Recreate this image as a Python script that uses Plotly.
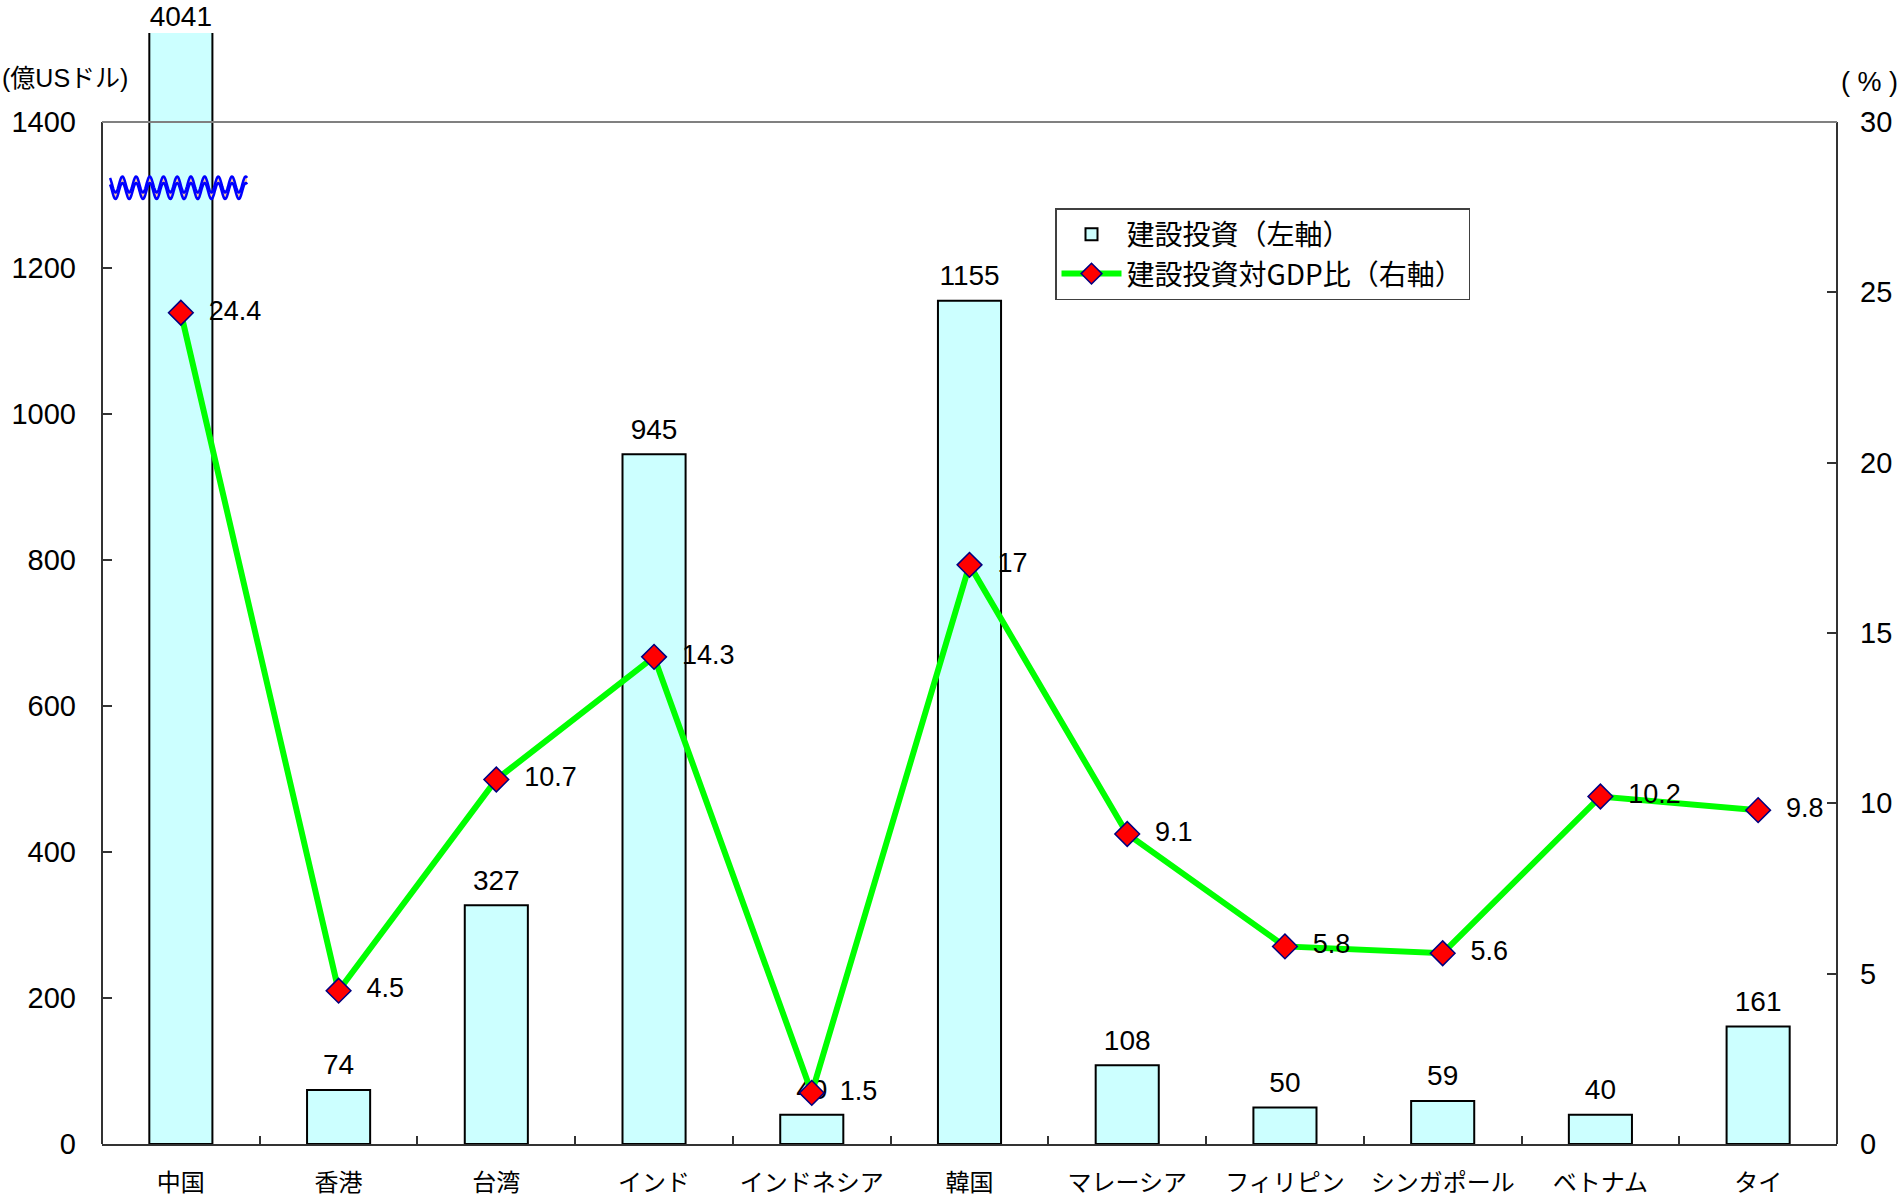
import numpy as np
import plotly.graph_objects as go

# ---------------- data ----------------
categories = ["中国", "香港", "台湾", "インド", "インドネシア", "韓国",
              "マレーシア", "フィリピン", "シンガポール", "ベトナム", "タイ"]
construction_investment = [4041, 74, 327, 945, 40, 1155, 108, 50, 59, 40, 161]
investment_gdp_ratio = [24.4, 4.5, 10.7, 14.3, 1.5, 17, 9.1, 5.8, 5.6, 10.2, 9.8]
left_ticks = [0, 200, 400, 600, 800, 1000, 1200, 1400]
right_ticks = [0, 5, 10, 15, 20, 25, 30]
bar_name = "建設投資（左軸）"
line_name = "建設投資対GDP比（右軸）"
left_title = "(億USドル)"
right_title = "( % )"

# ---------------- layout geometry (pixels) ----------------
W, H = 1901, 1198
PL, PR, PT, PB = 102, 1837, 33, 1144   # plot area
FRAME_TOP = 122                         # pixel of top tick (1400 / 30)
factor = (PB - PT) / (PB - FRAME_TOP)
Y_MAX = left_ticks[-1] * factor
Y2_MAX = right_ticks[-1] * factor

def px_to_paper(x, y):
    return (x - PL) / (PR - PL), (PB - y) / (PB - PT)

JP = "Noto Sans CJK JP, Liberation Sans"
NUM = "Liberation Sans, Noto Sans CJK JP"
GAP = "\u00a0\u00a0"

fig = go.Figure()

fig.add_trace(go.Bar(
    x=categories, y=construction_investment, name=bar_name,
    width=0.4,
    marker=dict(color="#CCFFFF", line=dict(color="#000000", width=2)),
    yaxis="y", hoverinfo="x+y",
))

# bar value labels (an invisible marker pushes the text up a little;
# the clipped China bar gets no push so its label stays inside the page)
label_y = [min(v, Y_MAX) for v in construction_investment]
label_push = [0 if v > Y_MAX else 12 for v in construction_investment]
fig.add_trace(go.Scatter(
    x=categories, y=label_y, mode="markers+text",
    marker=dict(size=label_push, color="rgba(0,0,0,0)", opacity=0,
                line=dict(width=0, color="rgba(0,0,0,0)")),
    text=[str(v) for v in construction_investment],
    textposition="top center",
    textfont=dict(family=NUM, size=28, color="#000000"),
    cliponaxis=False, showlegend=False, hoverinfo="skip", yaxis="y",
))

fig.add_trace(go.Scatter(
    x=categories, y=investment_gdp_ratio, name=line_name,
    mode="lines+markers+text",
    line=dict(color="#00FF00", width=6),
    marker=dict(symbol="diamond", size=19, color="#FF0000",
                line=dict(color="#000080", width=1.5)),
    text=[GAP + f"{v:g}" for v in investment_gdp_ratio],
    textposition="middle right",
    textfont=dict(family=NUM, size=27, color="#000000"),
    cliponaxis=False, yaxis="y2",
))

# ---------------- decorations ----------------
shapes = []
axis_col = "#333333"
shapes.append(dict(type="line", xref="paper", yref="y", x0=0, x1=0, y0=0, y1=left_ticks[-1],
                   line=dict(color=axis_col, width=2)))
shapes.append(dict(type="line", xref="paper", yref="y", x0=1, x1=1, y0=0, y1=left_ticks[-1],
                   line=dict(color=axis_col, width=2)))
shapes.append(dict(type="line", xref="paper", yref="y", x0=0, x1=1, y0=left_ticks[-1], y1=left_ticks[-1],
                   line=dict(color="#808080", width=2)))

# axis-break wave
xs = np.linspace(110, 247, 300)
ytop = 184.5 - 8.0 * np.sin(2 * np.pi * (xs - 110) / 13.7 + np.pi / 2 + 0.6)
ybot = ytop + 6.5
top_pts = [px_to_paper(a, b) for a, b in zip(xs, ytop)]
bot_pts = [px_to_paper(a, b) for a, b in zip(xs, ybot)]
fill_path = "M" + " L".join(f"{a:.5f},{b:.5f}" for a, b in top_pts + bot_pts[::-1]) + " Z"
shapes.append(dict(type="path", xref="paper", yref="paper", path=fill_path,
                   fillcolor="#FFCC99", line=dict(width=0)))
for pts in (top_pts, bot_pts):
    p = "M" + " L".join(f"{a:.5f},{b:.5f}" for a, b in pts)
    shapes.append(dict(type="path", xref="paper", yref="paper", path=p,
                       line=dict(color="#0000FF", width=2.5)))

ax_l, ay_l = px_to_paper(0, 78)
ax_r, ay_r = px_to_paper(1869, 82)
annotations = [
    dict(text=left_title, xref="paper", yref="paper", x=ax_l, y=ay_l,
         xanchor="left", yanchor="middle", showarrow=False,
         font=dict(family=NUM, size=25, color="#000000")),
    dict(text=right_title, xref="paper", yref="paper", x=ax_r, y=ay_r,
         xanchor="center", yanchor="middle", showarrow=False,
         font=dict(family=NUM, size=27, color="#000000")),
]

lx, ly = px_to_paper(1055, 208)

fig.update_layout(
    width=W, height=H,
    margin=dict(l=PL, r=W - PR, t=PT, b=H - PB, pad=0, autoexpand=False),
    paper_bgcolor="#FFFFFF", plot_bgcolor="#FFFFFF",
    font=dict(family=NUM, size=25, color="#000000"),
    showlegend=True,
    legend=dict(x=lx, y=ly, xanchor="left", yanchor="top",
                bgcolor="#FFFFFF", bordercolor="#404040", borderwidth=1.5,
                font=dict(family=JP, size=28, color="#000000"),
                itemwidth=60, tracegroupgap=0),
    xaxis=dict(type="category", range=[-0.5, len(categories) - 0.5], automargin=False,
               showline=True, linecolor=axis_col, linewidth=2,
               ticks="inside", tickson="boundaries", ticklen=8, tickcolor=axis_col, tickwidth=1.5,
               tickfont=dict(family=JP, size=24, color="#000000"),
               ticklabelstandoff=16, showgrid=False, zeroline=False, fixedrange=True),
    yaxis=dict(range=[0, Y_MAX], tickvals=left_ticks, ticktext=[str(t) for t in left_ticks],
               automargin=False,
               ticks="inside", ticklen=10, tickcolor=axis_col, tickwidth=1.5,
               tickfont=dict(family=NUM, size=29, color="#000000"),
               ticklabelstandoff=25, showline=False, showgrid=False, zeroline=False),
    yaxis2=dict(range=[0, Y2_MAX], tickvals=right_ticks, ticktext=[str(t) for t in right_ticks],
                automargin=False,
                overlaying="y", side="right",
                ticks="inside", ticklen=10, tickcolor=axis_col, tickwidth=1.5,
                tickfont=dict(family=NUM, size=29, color="#000000"),
                ticklabelstandoff=22, showline=False, showgrid=False, zeroline=False),
    shapes=shapes,
    annotations=annotations,
)

fig.write_html(
    "out.html",
    config={"displayModeBar": False},
    post_script="document.body.style.margin='0';document.body.style.overflow='hidden';",
)
